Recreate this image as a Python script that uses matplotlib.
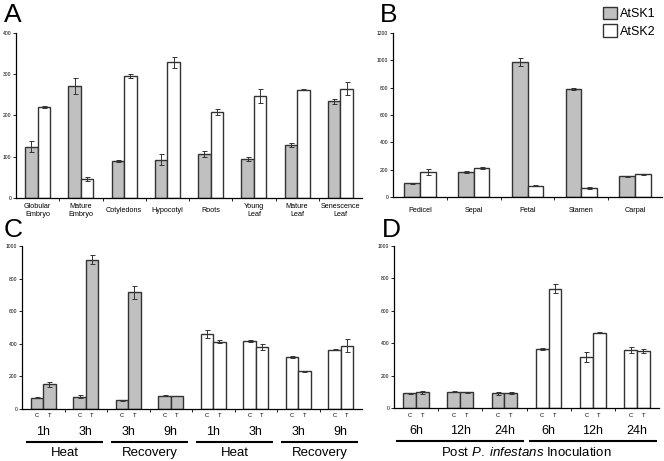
import matplotlib
matplotlib.use("Agg")
import matplotlib.pyplot as plt
import matplotlib.transforms as mtransforms
from matplotlib.patches import Patch
import numpy as np

plt.rcParams['font.family'] = ['Liberation Sans', 'DejaVu Sans']
plt.rcParams['mathtext.fontset'] = 'custom'
plt.rcParams['mathtext.rm'] = 'Liberation Sans'
plt.rcParams['mathtext.it'] = 'Liberation Sans:italic'

GREY = "#c0c0c0"
EDGE = "#333333"

# Panel A - tissues
tissues = ['Globular\nEmbryo', 'Mature\nEmbryo', 'Cotyledons', 'Hypocotyl',
           'Roots', 'Young\nLeaf', 'Mature\nLeaf', 'Senescence\nLeaf']
a_sk1 = [124, 271, 89, 93, 107, 94, 128, 234]
a_sk1_err = [13, 20, 2, 13, 8, 5, 5, 5]
a_sk2 = [220, 46, 296, 329, 209, 247, 263, 265]
a_sk2_err = [2, 4, 4, 13, 7, 17, 2, 15]

# Panel B - flower organs
organs = ['Pedicel', 'Sepal', 'Petal', 'Stamen', 'Carpal']
b_sk1 = [100, 183, 985, 790, 151]
b_sk1_err = [3, 5, 30, 8, 2]
b_sk2 = [183, 212, 83, 66, 166]
b_sk2_err = [20, 7, 2, 5, 5]

# Panel C - heat / recovery (C = control, T = treated)
c_times = ['1h', '3h', '3h', '9h', '1h', '3h', '3h', '9h']
c_conditions = ['Heat', 'Recovery', 'Heat', 'Recovery']
c_ctrl = [70, 75, 55, 82, 458, 419, 319, 364]
c_ctrl_err = [4, 8, 3, 2, 25, 5, 4, 2]
c_trt = [152, 917, 717, 80, 413, 378, 231, 387]
c_trt_err = [15, 25, 40, 2, 10, 18, 2, 40]
c_gene = ['AtSK1'] * 4 + ['AtSK2'] * 4

# Panel D - post P. infestans inoculation
d_times = ['6h', '12h', '24h', '6h', '12h', '24h']
d_ctrl = [90, 100, 90, 363, 316, 359]
d_ctrl_err = [4, 2, 10, 5, 30, 20]
d_trt = [96, 96, 90, 737, 466, 353]
d_trt_err = [10, 4, 6, 30, 4, 12]
d_gene = ['AtSK1'] * 3 + ['AtSK2'] * 3

W = 0.29


def style_axes(ax, n, ymax, ystep):
    for s in ['top', 'right']:
        ax.spines[s].set_visible(False)
    for s in ['left', 'bottom']:
        ax.spines[s].set_linewidth(0.9)
    ax.set_xlim(0, n)
    ax.set_ylim(0, ymax)
    ax.set_yticks(np.arange(0, ymax + 1, ystep))
    ax.tick_params(axis='y', labelsize=3.6, length=2, width=0.6, pad=1.5)
    ax.set_xticks(np.arange(1, n))
    ax.set_xticklabels([])
    ax.tick_params(axis='x', length=2, width=0.6)


def bar_pair(ax, left, right, lerr, rerr, lcol, rcol):
    x = np.arange(len(left)) + 0.5
    eb = dict(ecolor=EDGE, elinewidth=0.7, capsize=1.8, capthick=0.7)
    ax.bar(x - W / 2, left, W, color=lcol, edgecolor=EDGE, linewidth=1.0,
           yerr=lerr, error_kw=eb)
    ax.bar(x + W / 2, right, W, color=rcol, edgecolor=EDGE, linewidth=1.0,
           yerr=rerr, error_kw=eb)
    return x


fig = plt.figure(figsize=(6.64, 4.61), dpi=100)

# A
axA = fig.add_axes([16 / 664, 1 - 198 / 461, 346 / 664, 165 / 461])
style_axes(axA, len(tissues), 400, 100)
x = bar_pair(axA, a_sk1, a_sk2, a_sk1_err, a_sk2_err, GREY, 'white')
trA = mtransforms.blended_transform_factory(axA.transData, axA.transAxes)
for xi, lab in zip(x, tissues):
    axA.text(xi, -0.075, lab, transform=trA, ha='center', va='center',
             fontsize=5.2, linespacing=1.3)

# B
axB = fig.add_axes([393 / 664, 1 - 197 / 461, 269 / 664, 164 / 461])
style_axes(axB, len(organs), 1200, 200)
x = bar_pair(axB, b_sk1, b_sk2, b_sk1_err, b_sk2_err, GREY, 'white')
trB = mtransforms.blended_transform_factory(axB.transData, axB.transAxes)
for xi, lab in zip(x, organs):
    axB.text(xi, -0.08, lab, transform=trB, ha='center', va='center',
             fontsize=5.2)


def treatment_labels(ax, times, y_ct, y_time):
    tr = mtransforms.blended_transform_factory(ax.transData, ax.transAxes)
    for i, t in enumerate(times):
        xi = i + 0.5
        ax.text(xi - W / 2, y_ct, 'C', transform=tr, ha='center', va='center',
                fontsize=4.2)
        ax.text(xi + W / 2, y_ct, 'T', transform=tr, ha='center', va='center',
                fontsize=4.2)
        ax.text(xi, y_time, t, transform=tr, ha='center', va='center',
                fontsize=9)
    return tr


def group_line(ax, tr, x0, x1, y):
    ax.plot([x0, x1], [y, y], transform=tr, color='black', lw=1.5,
            clip_on=False, solid_capstyle='butt')


def colors_for(genes):
    return [GREY if g == 'AtSK1' else 'white' for g in genes]


# C
axC = fig.add_axes([22 / 664, 1 - 409 / 461, 340 / 664, 163 / 461])
style_axes(axC, len(c_times), 1000, 200)
cols = colors_for(c_gene)
bar_pair(axC, c_ctrl, c_trt, c_ctrl_err, c_trt_err, cols, cols)
trC = treatment_labels(axC, c_times, -0.037, -0.14)
for k, cond in enumerate(c_conditions):
    group_line(axC, trC, 2 * k + 0.1, 2 * k + 1.9, -0.2)
    axC.text(2 * k + 1, -0.27, cond, transform=trC, ha='center', va='center',
             fontsize=9.5)

# D
axD = fig.add_axes([394 / 664, 1 - 408 / 461, 265 / 664, 162 / 461])
style_axes(axD, len(d_times), 1000, 200)
cols = colors_for(d_gene)
bar_pair(axD, d_ctrl, d_trt, d_ctrl_err, d_trt_err, cols, cols)
trD = treatment_labels(axD, d_times, -0.045, -0.145)
group_line(axD, trD, 0.05, 2.95, -0.205)
group_line(axD, trD, 3.05, 5.95, -0.205)
axD.text(3, -0.275, r'Post $\it{P.\ infestans}$ Inoculation', transform=trD,
         ha='center', va='center', fontsize=9.5)

# panel letters
for lab, px, py in [('A', 4, 3), ('B', 380, 3), ('C', 4, 218), ('D', 382, 218)]:
    fig.text(px / 664, 1 - py / 461, lab, fontsize=19, ha='left', va='top')

# legend
handles = [Patch(facecolor=GREY, edgecolor=EDGE, label='AtSK1'),
           Patch(facecolor='white', edgecolor=EDGE, label='AtSK2')]
fig.legend(handles=handles, loc='upper right', bbox_to_anchor=(1.005, 1.01),
           frameon=False, fontsize=9, handlelength=1.1, handleheight=1.2,
           handletextpad=0.3, labelspacing=0.3)

fig.savefig('out.png', dpi=100)
